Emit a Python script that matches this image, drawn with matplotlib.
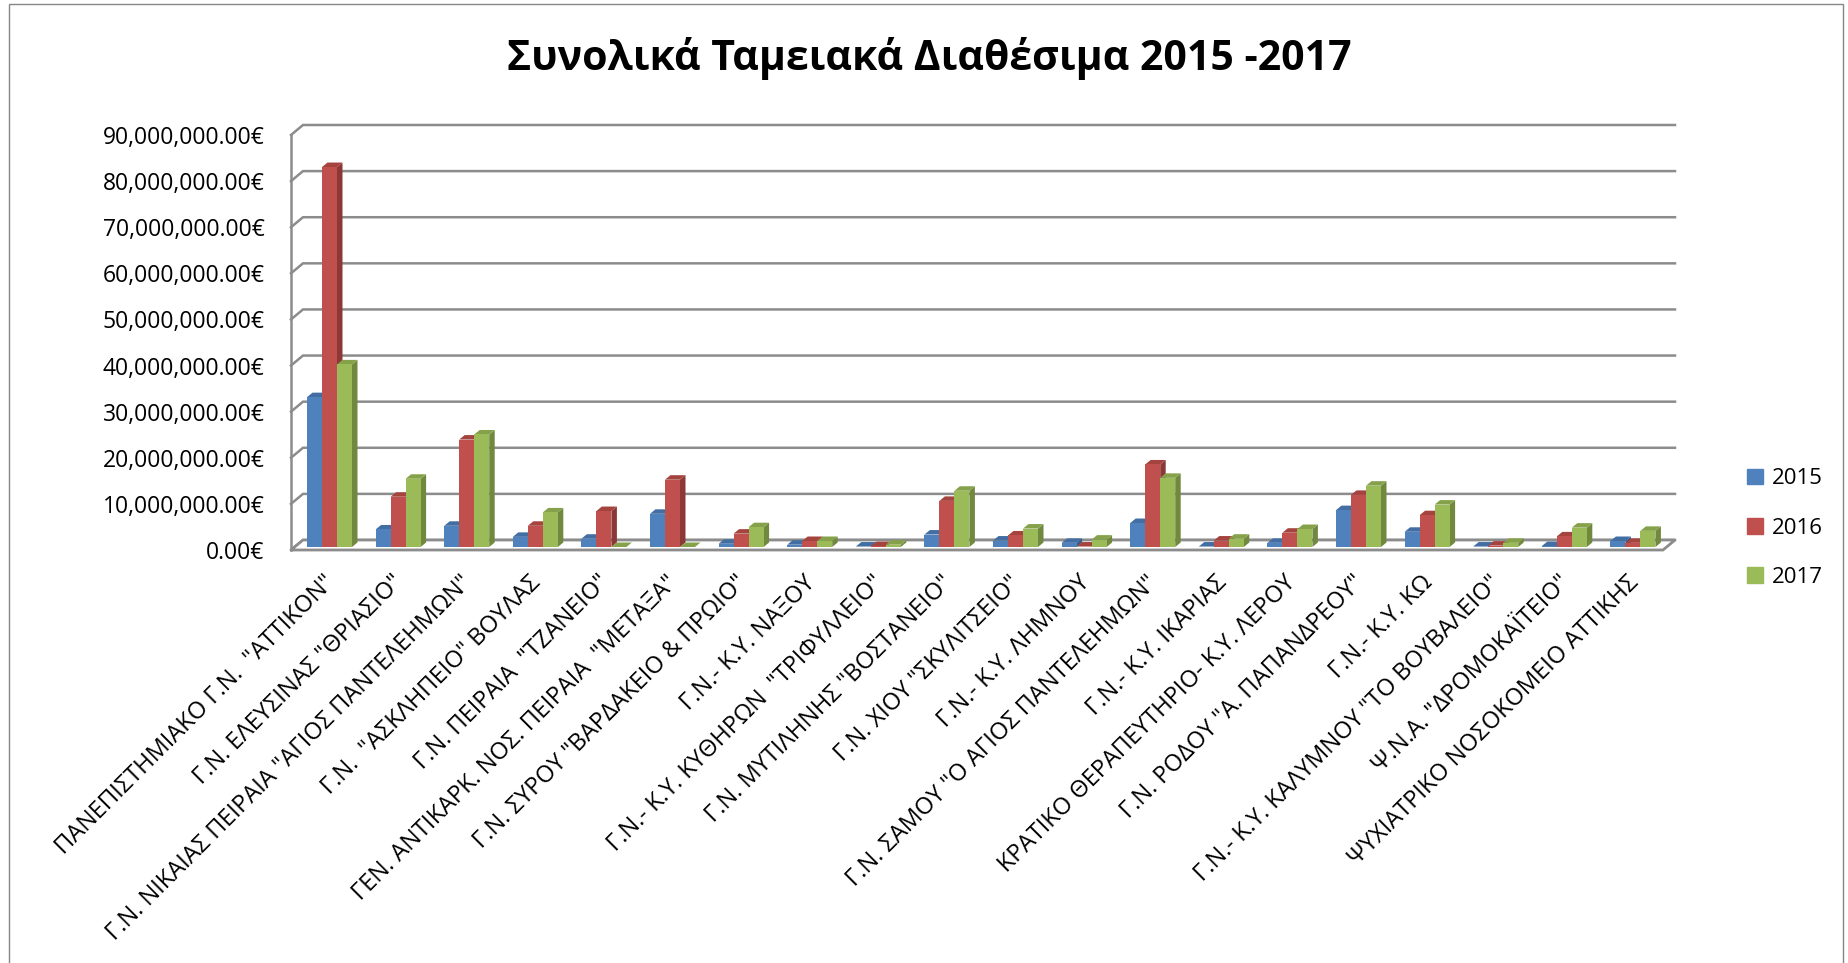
import matplotlib
matplotlib.use("Agg")
import matplotlib.pyplot as plt
from matplotlib.patches import Patch, Rectangle
from matplotlib.transforms import ScaledTranslation

plt.rcParams['font.family'] = ['Open Sans', 'DejaVu Sans']

# data (euro)
hospitals = [
    'ΠΑΝΕΠΙΣΤΗΜΙΑΚΟ Γ.Ν.  "ΑΤΤΙΚΟΝ"',
    'Γ.Ν. ΕΛΕΥΣΙΝΑΣ "ΘΡΙΑΣΙΟ"',
    'Γ.Ν. ΝΙΚΑΙΑΣ ΠΕΙΡΑΙΑ "ΑΓΙΟΣ ΠΑΝΤΕΛΕΗΜΩΝ"',
    'Γ.Ν.  "ΑΣΚΛΗΠΕΙΟ" ΒΟΥΛΑΣ',
    'Γ.Ν. ΠΕΙΡΑΙΑ  "ΤΖΑΝΕΙΟ"',
    'ΓΕΝ. ΑΝΤΙΚΑΡΚ. ΝΟΣ. ΠΕΙΡΑΙΑ  "ΜΕΤΑΞΑ"',
    'Γ.Ν. ΣΥΡΟΥ "ΒΑΡΔΑΚΕΙΟ & ΠΡΩΙΟ"',
    'Γ.Ν.- Κ.Υ. ΝΑΞΟΥ',
    'Γ.Ν.- Κ.Υ. ΚΥΘΗΡΩΝ  "ΤΡΙΦΥΛΛΕΙΟ"',
    'Γ.Ν. ΜΥΤΙΛΗΝΗΣ "ΒΟΣΤΑΝΕΙΟ"',
    'Γ.Ν. ΧΙΟΥ "ΣΚΥΛΙΤΣΕΙΟ"',
    'Γ.Ν.- Κ.Υ. ΛΗΜΝΟΥ',
    'Γ.Ν. ΣΑΜΟΥ "Ο ΑΓΙΟΣ ΠΑΝΤΕΛΕΗΜΩΝ"',
    'Γ.Ν.- Κ.Υ. ΙΚΑΡΙΑΣ',
    'ΚΡΑΤΙΚΟ ΘΕΡΑΠΕΥΤΗΡΙΟ- Κ.Υ. ΛΕΡΟΥ',
    'Γ.Ν. ΡΟΔΟΥ "Α. ΠΑΠΑΝΔΡΕΟΥ"',
    'Γ.Ν.- Κ.Υ. ΚΩ',
    'Γ.Ν.- Κ.Υ. ΚΑΛΥΜΝΟΥ "ΤΟ ΒΟΥΒΑΛΕΙΟ"',
    'Ψ.Ν.Α. "ΔΡΟΜΟΚΑΪΤΕΙΟ"',
    'ΨΥΧΙΑΤΡΙΚΟ ΝΟΣΟΚΟΜΕΙΟ ΑΤΤΙΚΗΣ',
]
years = ['2015', '2016', '2017']
cash_2015 = [32.5e6, 3.8e6, 4.6e6, 2.2e6, 1.8e6, 7.2e6, 0.7e6, 0.5e6, 0.1e6, 2.7e6,
             1.4e6, 0.9e6, 5.2e6, 0.1e6, 0.9e6, 8.0e6, 3.3e6, 0.1e6, 0.2e6, 1.3e6]
cash_2016 = [82.4e6, 10.9e6, 23.3e6, 4.6e6, 7.8e6, 14.6e6, 2.9e6, 1.3e6, 0.2e6, 10.0e6,
             2.5e6, 0.1e6, 17.9e6, 1.4e6, 3.1e6, 11.3e6, 6.9e6, 0.3e6, 2.3e6, 0.9e6]
cash_2017 = [39.6e6, 14.8e6, 24.4e6, 7.5e6, 0.0, 0.0, 4.3e6, 1.3e6, 0.5e6, 12.2e6,
             4.0e6, 1.6e6, 15.0e6, 1.8e6, 3.9e6, 13.3e6, 9.2e6, 0.9e6, 4.2e6, 3.5e6]
yticks = [0, 10e6, 20e6, 30e6, 40e6, 50e6, 60e6, 70e6, 80e6, 90e6]

series = [cash_2015, cash_2016, cash_2017]
front_c = ['#4F81BD', '#C0504D', '#9BBB59']
side_c = ['#385D8A', '#8C3836', '#71893F']
top_c = ['#436EA3', '#A5433F', '#85A24A']
grid_c = '#8C8C8C'

# geometry of the fake 3d look (pixels -> data units)
W, H = 1849, 963
n = len(hospitals)
px_cat = 68.6
px_eur = 415 / 90e6
dx, dy = 12 / px_cat, 10 / px_eur      # depth of floor / walls
bx, by = 3.5 / px_cat, 3 / px_eur      # bars sit a bit behind the front
sx, sy = 5.5 / px_cat, 4.5 / px_eur    # bar depth
w = 15 / px_cat
start = 16 / px_cat

fig = plt.figure(figsize=(W / 100, H / 100), dpi=100)
ax = fig.add_axes([291 / W, (H - 550) / H, (n + dx) * px_cat / W, (90e6 + dy) * px_eur / H])
ax.set_xlim(0, n + dx)
ax.set_ylim(0, 90e6 + dy)
for s in ax.spines.values():
    s.set_visible(False)

# back wall grid + side wall diagonals
for v in yticks:
    ax.plot([0, dx, n + dx], [v, v + dy, v + dy], color=grid_c, lw=1.8,
            zorder=1, clip_on=False, solid_joinstyle='miter')
ax.plot([0, 0], [0, yticks[-1]], color=grid_c, lw=1.8, zorder=1, clip_on=False)
# floor
ax.fill([0, n, n + dx, dx], [0, 0, dy, dy], facecolor='white', edgecolor=grid_c,
        lw=2, zorder=1.5, clip_on=False)

# sides and tops first, left to right
for i in range(n):
    for j, vals in enumerate(series):
        x0 = i + start + j * w
        h = vals[i]
        ax.fill([x0 + w, x0 + w + sx, x0 + w + sx, x0 + w],
                [by, by + sy, by + h + sy, by + h],
                color=side_c[j], lw=0, zorder=2, clip_on=False)
        ax.fill([x0, x0 + w, x0 + w + sx, x0 + sx],
                [by + h, by + h, by + h + sy, by + h + sy],
                color=top_c[j], lw=0, zorder=2, clip_on=False)

for j, vals in enumerate(series):
    xs = [i + start + j * w for i in range(n)]
    ax.bar(xs, vals, width=w, bottom=by, align='edge', color=front_c[j],
           lw=0, zorder=3, clip_on=False)

ax.set_yticks(yticks, [f'{v:,.2f}€' for v in yticks], fontsize=16.5)
ax.tick_params(axis='y', length=0, pad=19)

ax.set_xticks([i + 0.5 for i in range(n)], hospitals, rotation=45, ha='right',
              va='center', rotation_mode='anchor', fontsize=17)
ax.tick_params(axis='x', length=0, pad=21)
shift = ScaledTranslation(6 / 100, 0, fig.dpi_scale_trans)
for lab in ax.get_xticklabels():
    lab.set_transform(lab.get_transform() + shift)

fig.text(929 / W, 1 - 58 / H, 'Συνολικά Ταμειακά Διαθέσιμα 2015 -2017',
         ha='center', va='center', fontsize=29.5, fontweight='bold')

handles = [Patch(color=c) for c in front_c]
fig.legend(handles, years, loc='center left', bbox_to_anchor=(1747 / W, 1 - 528 / H),
           frameon=False, fontsize=16, handlelength=0.7, handleheight=0.7,
           handletextpad=0.4, labelspacing=1.27, borderpad=0, borderaxespad=0)

fig.add_artist(Rectangle((9 / W, -0.01), (1843 - 9) / W, 1.01 - 4 / H,
                         transform=fig.transFigure, fill=False,
                         edgecolor='#868686', lw=1))

fig.savefig('out.png', dpi=100)
